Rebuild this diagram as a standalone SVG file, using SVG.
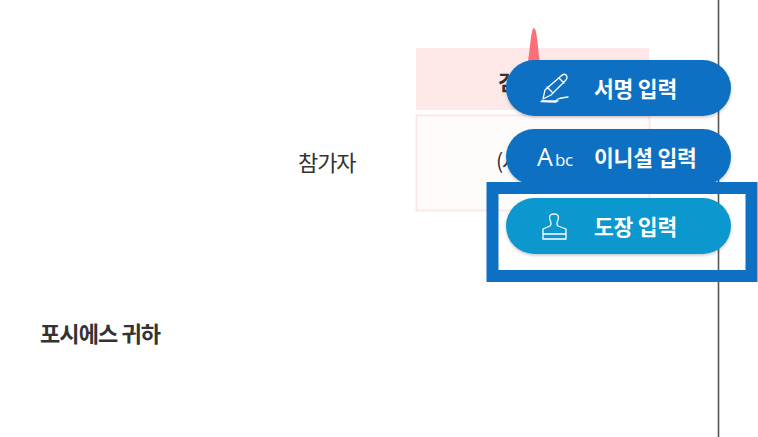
<svg xmlns="http://www.w3.org/2000/svg" width="758" height="437" viewBox="0 0 758 437">
<style>
text{font-family:"Noto Sans CJK KR","Noto Sans",sans-serif}
.lbl{font-size:21.500px;font-weight:700;fill:#fff;letter-spacing:-.2px}
.ic{fill:none;stroke:#fff;stroke-width:1.300;stroke-linejoin:round;stroke-linecap:round}
.btn{filter:url(#s)}
.doc{font-size:21px;fill:#333;letter-spacing:-1.300px}
</style>
<defs><filter id="s" x="-10%" y="-20%" width="120%" height="150%"><feDropShadow dx="0" dy="1.500" stdDeviation="1.500" flood-color="#000" flood-opacity=".22"/></filter></defs>
<rect width="758" height="437" fill="#fff"/>
<g id="page-line"><line x1="718.500" y1="0" x2="718.500" y2="437" stroke="#555" stroke-width="1.600"/></g>
<g id="table">
<rect x="416" y="48" width="233" height="62" fill="#fee8e8"/>
<rect x="416.500" y="115.500" width="233" height="95" fill="#fefcfb" stroke="#fde6e6" stroke-width="2"/>
<text x="498" y="90" class="doc" font-weight="700">검</text>
<text x="496" y="169" class="doc">(서</text>
</g>
<g id="marker"><path d="M528 62C530 50 531 28 534 28C537 28 538 50 540 62Z" fill="#fb7078"/></g>
<g id="participant"><text x="298" y="171" class="doc" style="font-size:22px;letter-spacing:-1.100px">참가자</text></g>
<g id="addressee"><text x="40" y="342" style="font-size:22px;letter-spacing:-.9px;fill:#333" font-weight="700">포시에스 귀하</text></g>
<g id="sign-btn">
<rect class="btn" x="506" y="60" width="225" height="56" rx="28" fill="#0e70c2"/>
<path class="ic" d="M545 90L561 76Q564 73 566 75Q568 77 566 80L551 95L543 99ZM547 87L552 92M559 78L564 83M542 101H558Q553 99 568 97M541 101.500L556 102"/>
<text x="594" y="96.500" class="lbl">서명 입력</text>
</g>
<g id="initial-btn">
<rect class="btn" x="506" y="129" width="225" height="56" rx="28" fill="#0e70c2"/>
<text x="537" y="166" font-size="25" fill="#fff" style="font-family:'Open Sans',sans-serif">A</text>
<text x="555" y="166" font-size="17" fill="#fff" style="font-family:'Open Sans',sans-serif" letter-spacing="-.5">bc</text>
<text x="594" y="165.500" class="lbl">이니셜 입력</text>
</g>
<g id="seal-btn">
<rect class="btn" x="506" y="198" width="225" height="56" rx="28" fill="#0d97cf"/>
<path class="ic" d="M550 226Q552 224 550 220Q548 214 554 214Q560 214 558 220Q556 224 558 226L566 229V234H543V229ZM543 234V239H566V234"/>
<text x="594" y="234.500" class="lbl">도장 입력</text>
</g>
<g id="highlight"><rect x="492.500" y="188" width="259" height="88" fill="none" stroke="#0e70c2" stroke-width="12"/></g>
</svg>
